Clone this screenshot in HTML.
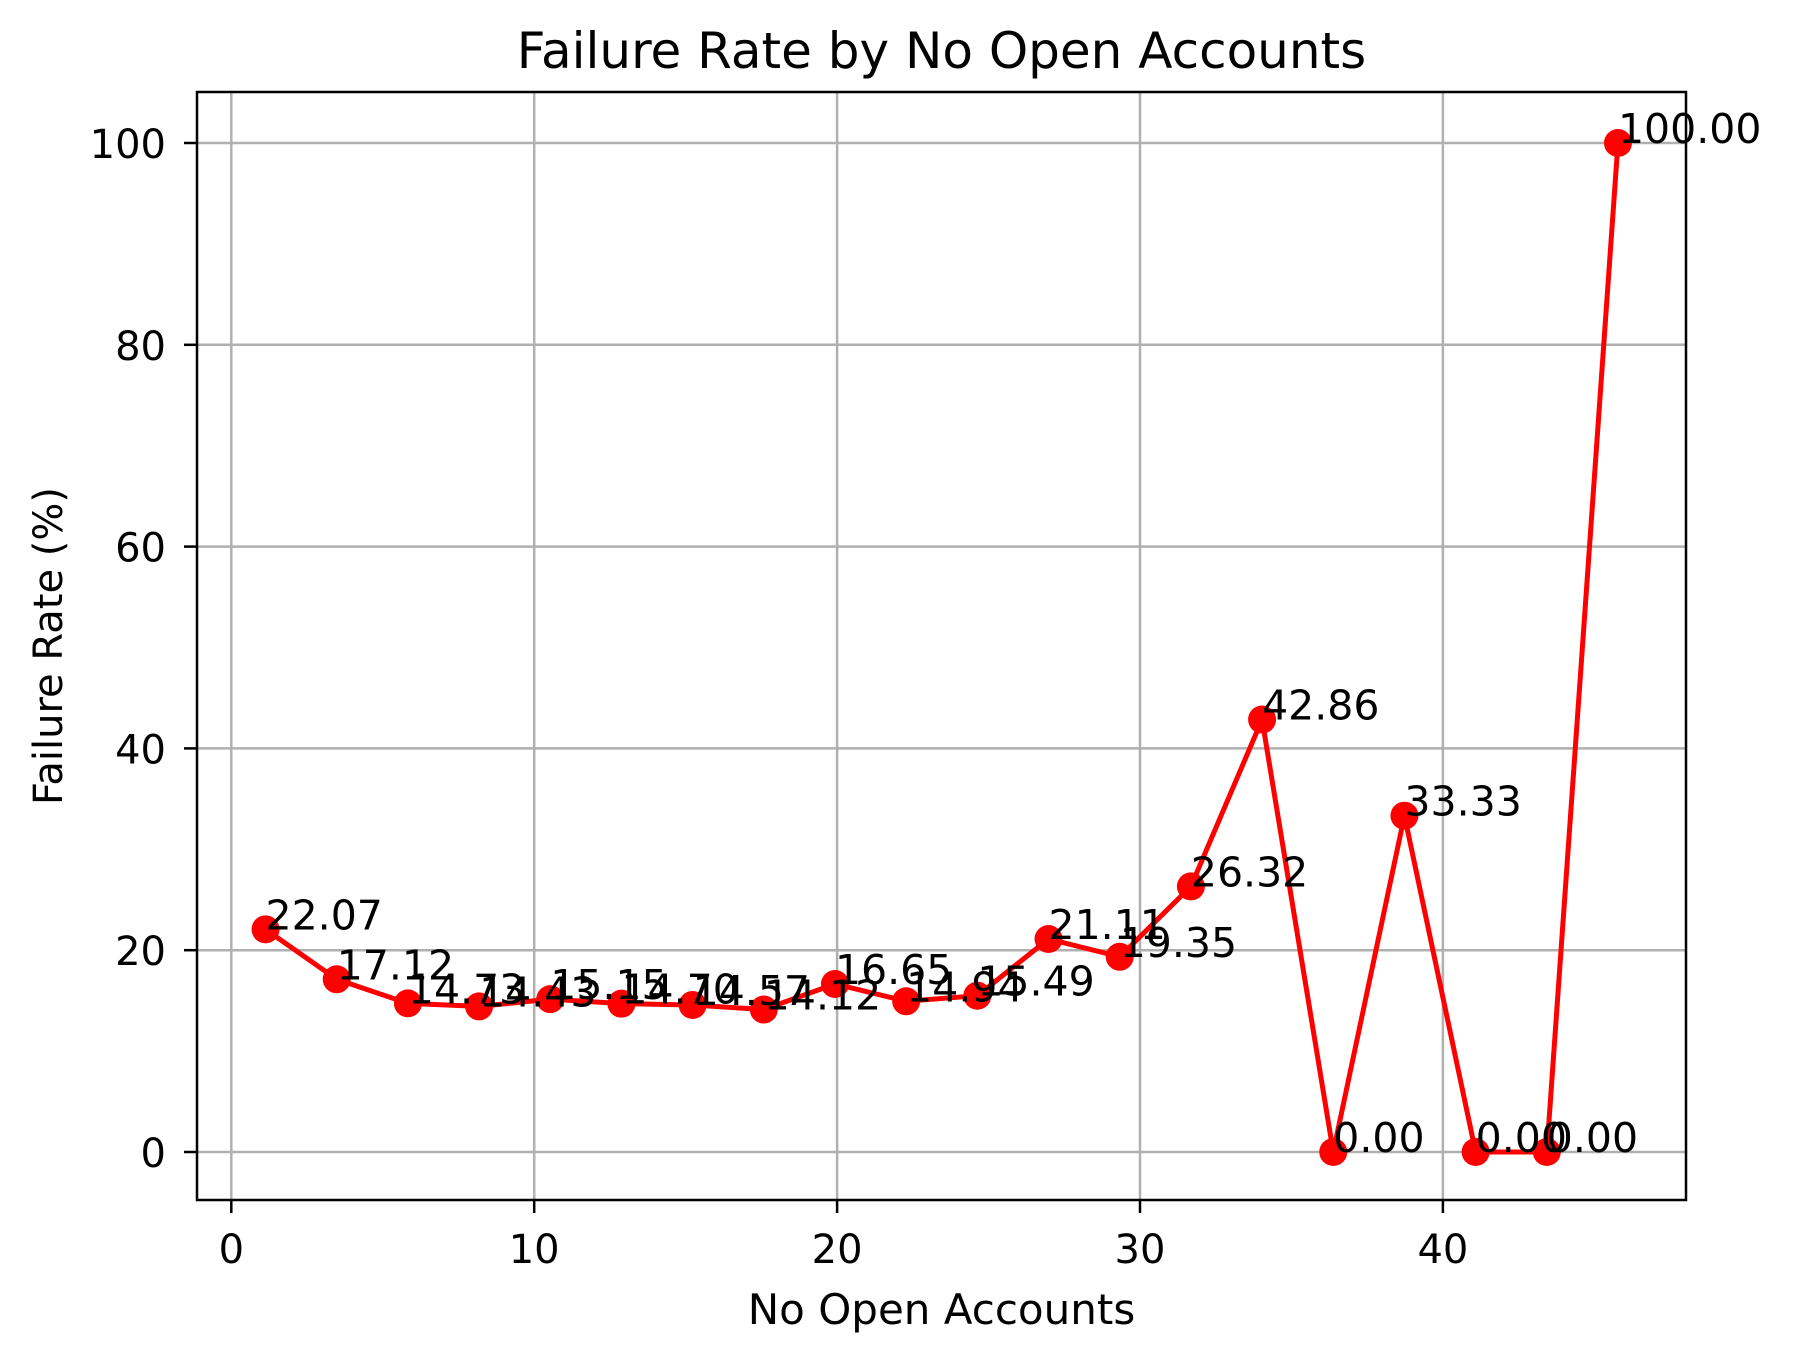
<!DOCTYPE html>
<html><head><meta charset="utf-8"><style>body{margin:0;background:#fff}svg{display:block}text{font-family:"DejaVu Sans","Liberation Sans",sans-serif;fill:#000}</style></head>
<body>
<svg id="chart" width="1793" height="1361"></svg>
<script>
const xValues=[1.13,3.48,5.83,8.18,10.53,12.88,15.23,17.58,19.93,22.28,24.63,26.98,29.33,31.68,34.03,36.38,38.73,41.08,43.43,45.78];
const rates=[22.07,17.12,14.73,14.43,15.15,14.70,14.57,14.12,16.65,14.94,15.49,21.11,19.35,26.32,42.86,0,33.33,0,0,100];
const xTicks=[0,10,20,30,40];
const yTicks=[0,20,40,60,80,100];
const L=197,R=1686,T=92,B=1200;
const sx=v=>231.3+v*30.29;
const sy=v=>1152-v*10.09;
const svg=document.getElementById('chart');
const NS='http://www.w3.org/2000/svg';
function mk(tag,attrs,parent){const e=document.createElementNS(NS,tag);for(const k in attrs)e.setAttribute(k,attrs[k]);(parent||svg).appendChild(e);return e;}
xTicks.forEach(t=>{
 const g=mk('line',{x1:sx(t),x2:sx(t),y1:T,y2:B,stroke:'#b0b0b0','stroke-width':2.5});
 
 
 const tk=mk('line',{x1:sx(t),x2:sx(t),y1:B,y2:B+13,stroke:'#000','stroke-width':2.5});
 
 
 const tx=mk('text',{x:sx(t),y:1263,'text-anchor':'middle','font-size':40});tx.textContent=t;
 
 
});
yTicks.forEach(t=>{
 const g=mk('line',{x1:L,x2:R,y1:sy(t),y2:sy(t),stroke:'#b0b0b0','stroke-width':2.5});
 
 
 const tk=mk('line',{x1:L-13,x2:L,y1:sy(t),y2:sy(t),stroke:'#000','stroke-width':2.5});
 
 
 const tx=mk('text',{x:166,y:sy(t)+15,'text-anchor':'end','font-size':40});tx.textContent=t;
 
 
});
const pts=xValues.map((x,i)=>sx(x)+','+sy(rates[i])).join(' ');
const line=mk('polyline',{points:pts,fill:'none',stroke:'#ff0000','stroke-width':5});


xValues.forEach((x,i)=>{
 const c=mk('circle',{cx:sx(x),cy:sy(rates[i]),r:14,fill:'#ff0000'});
 
 
});
xValues.forEach((x,i)=>{
 const t=mk('text',{x:sx(x),y:sy(rates[i]),'font-size':41});t.textContent=rates[i].toFixed(2);
 
 
});
const fr=mk('rect',{x:L,y:T,width:R-L,height:B-T,fill:'none',stroke:'#000','stroke-width':2.5});


const ti=mk('text',{x:(L+R)/2,y:68,'text-anchor':'middle','font-size':50});ti.textContent='Failure Rate by No Open Accounts';


const xl=mk('text',{x:(L+R)/2,y:1324,'text-anchor':'middle','font-size':42});xl.textContent='No Open Accounts';


const yl=mk('text',{x:0,y:0,'text-anchor':'middle','font-size':40,transform:'translate(62,646) rotate(-90)'});yl.textContent='Failure Rate (%)';


</script>
</body></html>
